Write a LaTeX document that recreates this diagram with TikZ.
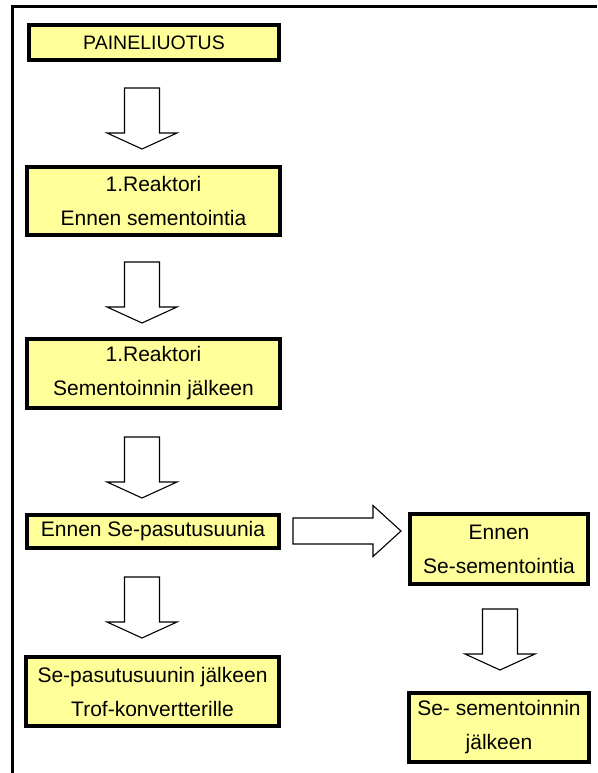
\documentclass[tikz,border=0pt]{standalone}
\usepackage{fontspec}
\setmainfont{Liberation Sans}
\definecolor{boxfill}{HTML}{FFFF99}
\begin{document}
\begin{tikzpicture}[x=1pt,y=-1pt,
  box/.style={draw=black, line width=3.5pt, fill=boxfill, align=center, inner sep=0pt,
    font=\fontsize{21}{34}\selectfont},
  arr/.style={draw=black, line width=1.1pt, fill=white, line join=miter},
  frame/.style={draw=black, line width=3pt},
  downarr/.pic={\draw[arr] (-17.5,0) -- (17.5,0) -- (17.5,45) -- (35,45) -- (0,61) -- (-35,45) -- (-17.5,45) -- cycle;},
  rightarr/.pic={\draw[arr] (0,-13) -- (80,-13) -- (80,-25.5) -- (108,0) -- (80,25.5) -- (80,13) -- (0,13) -- cycle;}
]
\useasboundingbox (0,0) rectangle (597,773);
% frame
\coordinate (fTL) at (12,7);
\coordinate (fTR) at (597,7);
\coordinate (fBL) at (12,773);
\draw[frame] (fTR) -- (fTL) -- (fBL);

% boxes
\node[box, minimum width=250, minimum height=35, font=\fontsize{19.5}{30}\selectfont] (b1) at (154,42.5) {PAINELIUOTUS};
\node[box, minimum width=253, minimum height=68] (b2) at (153.5,201) {1.Reaktori\\Ennen sementointia};
\node[box, minimum width=253, minimum height=69] (b3) at (153.5,373.5) {1.Reaktori\\Sementoinnin jälkeen};
\node[box, minimum width=252, minimum height=33] (b4) at (153,531.5) {Ennen Se-pasutusuunia};
\node[box, minimum width=178, minimum height=70] (b5) at (499,549) {Ennen\\Se-sementointia};
\node[box, minimum width=253, minimum height=69] (b6) at (152.5,691.5) {Se-pasutusuunin jälkeen\\Trof-konvertterille};
\node[box, minimum width=180, minimum height=69] (b7) at (499,727.5) {Se- sementoinnin\\jälkeen};

% block arrows
\pic (a1) at (142,88) {downarr};
\pic (a2) at (142,262) {downarr};
\pic (a3) at (142,437) {downarr};
\pic (a4) at (142,577) {downarr};
\pic (a5) at (500,609) {downarr};
\pic (a6) at (293,531) {rightarr};
\end{tikzpicture}
\end{document}
